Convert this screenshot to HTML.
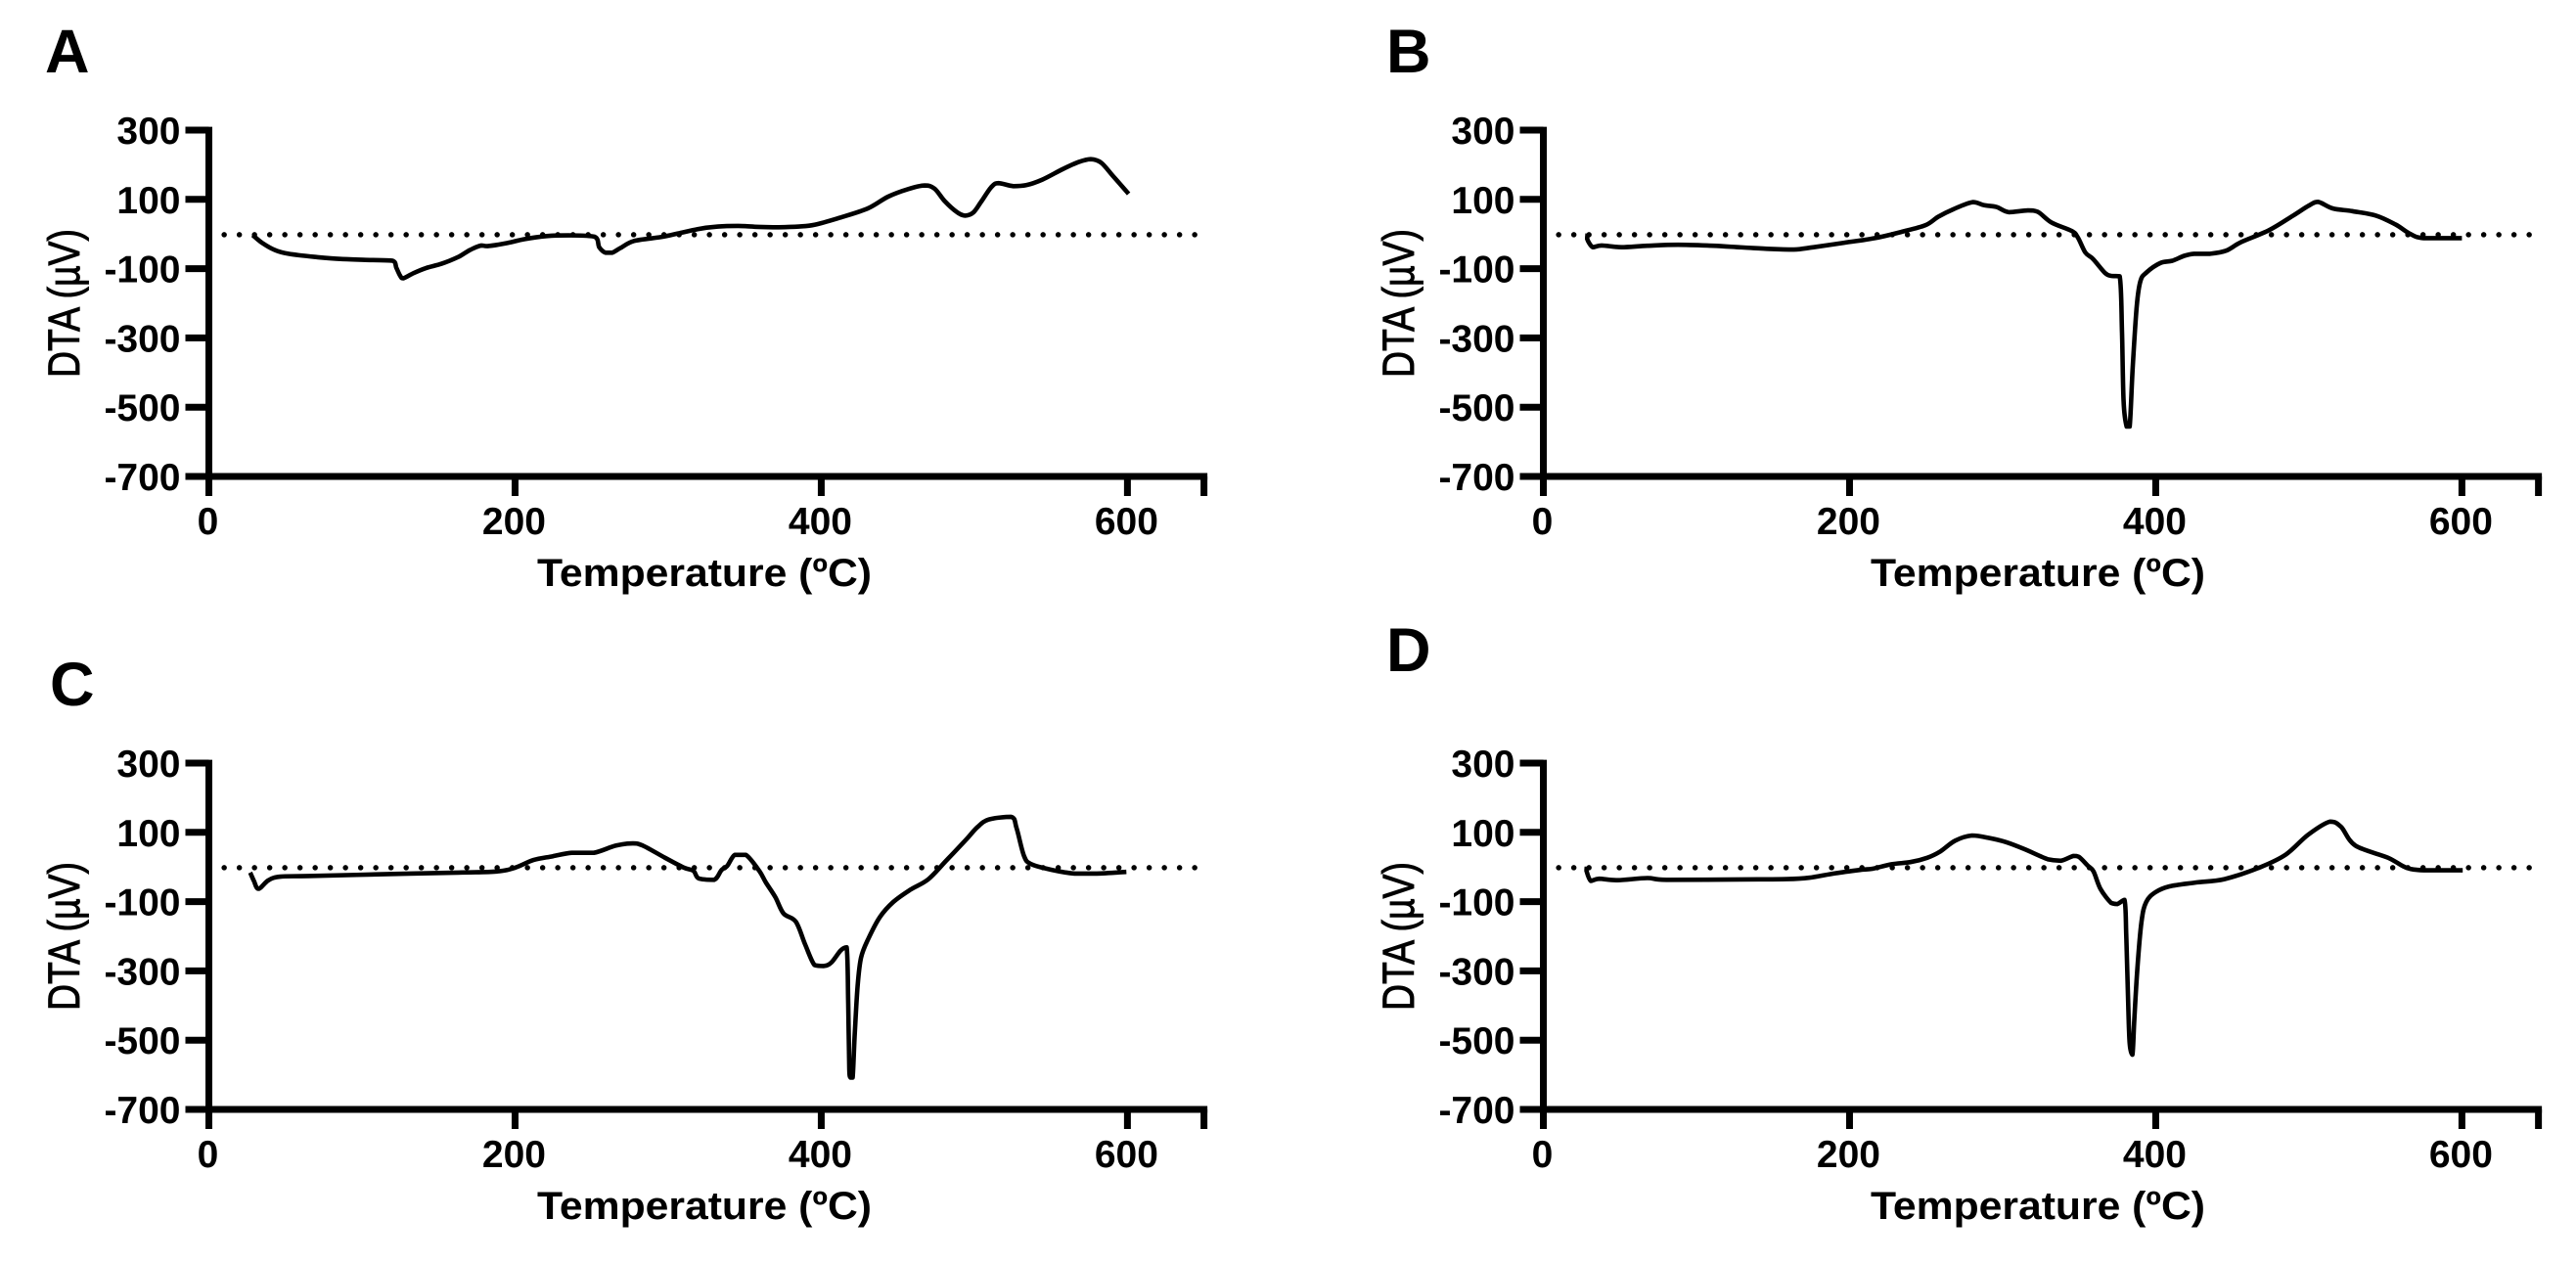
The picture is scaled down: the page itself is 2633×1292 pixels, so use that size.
<!DOCTYPE html>
<html lang="en">
<head>
<meta charset="utf-8">
<title>DTA curves, panels A to D</title>
<style>
html,body{margin:0;padding:0;background:#fff;}
svg{display:block;}
text{font-family:"Liberation Sans",Arial,sans-serif;fill:#000;}
.letter{font-size:63px;font-weight:bold;}
.tick{font-size:39px;font-weight:bold;}
.xtitle{font-size:40px;font-weight:bold;}
.ytitle{font-size:45px;font-weight:normal;stroke:#000;stroke-width:0.9px;}
</style>
</head>
<body>
<svg id="figure" xmlns="http://www.w3.org/2000/svg" width="2633" height="1292" viewBox="0 0 2633 1292">
<rect width="2633" height="1292" fill="#fff"/>
<g id="panel-a">
<text class="letter" x="46" y="74">A</text>
<text class="xtitle" x="549" y="599" textLength="342" lengthAdjust="spacingAndGlyphs">Temperature (ºC)</text>
<text class="ytitle" transform="translate(81 386) rotate(-90)" textLength="152" lengthAdjust="spacingAndGlyphs">DTA (µV)</text>
</g>
<g id="panel-b">
<text class="letter" x="1417" y="74">B</text>
<text class="xtitle" x="1912" y="599" textLength="342" lengthAdjust="spacingAndGlyphs">Temperature (ºC)</text>
<text class="ytitle" transform="translate(1445 386) rotate(-90)" textLength="152" lengthAdjust="spacingAndGlyphs">DTA (µV)</text>
</g>
<g id="panel-c">
<text class="letter" x="51" y="721">C</text>
<text class="xtitle" x="549" y="1246" textLength="342" lengthAdjust="spacingAndGlyphs">Temperature (ºC)</text>
<text class="ytitle" transform="translate(81 1033) rotate(-90)" textLength="152" lengthAdjust="spacingAndGlyphs">DTA (µV)</text>
</g>
<g id="panel-d">
<text class="letter" x="1417" y="686">D</text>
<text class="xtitle" x="1912" y="1246" textLength="342" lengthAdjust="spacingAndGlyphs">Temperature (ºC)</text>
<text class="ytitle" transform="translate(1445 1033) rotate(-90)" textLength="152" lengthAdjust="spacingAndGlyphs">DTA (µV)</text>
</g>
</svg>
<script>
const xTickValues = [0, 200, 400, 600];
const xAxisMax = 650;
const yTickValues = [300, 100, -100, -300, -500, -700];
const referenceLevel = -2;
const referenceRange = [10, 644];

const tempA = [28.6,34.9,43.4,52,69,86,106,120,122.5,125,127,133.7,142,152,163,170.6,178,182,195,206,220.6,235,252,255,259,263.4,269,277.7,295,306,319.2,332.5,345.7,359,372,385.4,396,412,430.5,443.7,457,467.5,474,480.8,488.7,494,499.3,504.6,511,515.7,525.5,533.8,544.4,557.6,568.2,576,582.8,590.7,600.8];
const dtaA = [-3,-26,-47,-57,-66,-72,-75,-77,-98,-121,-128,-113,-98,-86,-66,-46,-33,-35,-26,-15,-6,-4,-8,-38,-54,-54,-40,-20,-9,1,14,21.5,23.5,20.5,19.5,21.5,27,47,74,108,130,140,131,94,63,53,62,94,135,147,138,141,157,187,208,216,206,167,116];

const tempB = [28.9,28.6,32.3,38,51,68,88,111,131,148,163.7,176.6,196.6,216.6,233.7,249.4,258,268,280.4,288,296,304,316.5,323,332,345,349,354,359,367,371,376.5,378,379,381,383,385,387.6,390,394,403,410.9,418.6,425,435.6,446,456,474,489.7,500,506,515.5,528.4,543.9,556.8,565.9,575,600];
const dtaB = [1,-14,-38,-33,-38,-34,-31,-34,-39,-43,-45,-38,-25,-12,6,25,50,72,92,83,78,63,68,64,33,9,-9,-53,-72,-113,-121,-122,-287,-483,-556,-556,-385,-209,-136,-111,-84,-77,-63,-57,-57,-48,-23,11,53,82,93,74,66,53,27,1,-12,-12];

const tempC = [27,29.4,32.4,39,46.6,65,114,163,187.7,200,212,224.7,237,251.5,266,277,283.4,298,310.3,316.5,320,330,334.9,338.6,343.5,350.8,359.5,363.8,370,375.3,383.4,389.5,395.6,401.7,406.6,412.7,416.6,417.6,418.3,419,420.5,421.8,423.7,426,431,438.4,447,458,470,482.4,494.6,502,509.3,524,527.6,532.5,537.4,550.9,565.5,580,599.3];
const dtaC = [-16,-40,-63,-38,-28,-26,-21,-16,-13,-2,20,31,41,41,62,68,62,26.5,-2,-11,-33,-37,-8.5,3,35,35,-11,-44.5,-87,-134,-158,-224,-283,-286,-276,-241,-232,-395,-584,-608,-608,-490,-347,-262,-205,-144,-101,-66,-35,22,79,115,137,145,112,31,8,-8.5,-19,-19,-14];

const tempD = [28.4,28.2,31,36.4,48.6,68,80.4,129.4,159,173.5,190.7,207.8,215,227.5,239.7,250.7,259.3,269,280,291,302,314,329.7,338,346.3,349.9,355.8,359.4,364,371,374.8,379.6,380.8,382,383,384.8,386,387.9,390.7,393.8,399.8,409,425.9,444.9,468.6,485,499.5,513.8,521,530.4,551.8,563.7,575.5,600.5];
const dtaD = [1,-11,-40,-34,-38,-32,-37,-36,-35,-31,-18,-8,-5,8,14,26.5,45,76,91,84,72,52,22,18,32,29,3,-13,-64,-104,-107,-95,-206,-395,-509,-542,-443,-300,-158,-101,-73,-56,-45,-35,0,36,93,131,116,62,26.5,-2,-9.5,-9.5];

const NS = 'http://www.w3.org/2000/svg';

function makeAxes(x0, yTop) {
  return {
    x: function (t) { return x0 + t * 1.5648; },
    y: function (v) { return yTop + (300 - v) * 0.354; }
  };
}

function addLine(parent, x1, y1, x2, y2, width) {
  const el = document.createElementNS(NS, 'line');
  el.setAttribute('x1', x1);
  el.setAttribute('y1', y1);
  el.setAttribute('x2', x2);
  el.setAttribute('y2', y2);
  el.setAttribute('stroke', '#000');
  el.setAttribute('stroke-width', width);
  parent.appendChild(el);
  return el;
}

function addLabel(parent, x, y, anchor, str) {
  const el = document.createElementNS(NS, 'text');
  el.setAttribute('class', 'tick');
  el.setAttribute('x', x);
  el.setAttribute('y', y);
  el.setAttribute('text-anchor', anchor);
  el.textContent = str;
  parent.appendChild(el);
  return el;
}

function clamp(v, a, b) {
  return Math.max(Math.min(a, b), Math.min(Math.max(a, b), v));
}

function smoothPath(pts) {
  let d = 'M' + pts[0][0].toFixed(1) + ' ' + pts[0][1].toFixed(1);
  for (let i = 0; i < pts.length - 1; i++) {
    const p0 = pts[Math.max(i - 1, 0)];
    const p1 = pts[i];
    const p2 = pts[i + 1];
    const p3 = pts[Math.min(i + 2, pts.length - 1)];
    const c1x = clamp(p1[0] + (p2[0] - p0[0]) / 6, p1[0], p2[0]);
    const c1y = clamp(p1[1] + (p2[1] - p0[1]) / 6, p1[1], p2[1]);
    const c2x = clamp(p2[0] - (p3[0] - p1[0]) / 6, p1[0], p2[0]);
    const c2y = clamp(p2[1] - (p3[1] - p1[1]) / 6, p1[1], p2[1]);
    d += ' C' + c1x.toFixed(1) + ' ' + c1y.toFixed(1) + ' ' + c2x.toFixed(1) + ' ' + c2y.toFixed(1) + ' ' + p2[0].toFixed(1) + ' ' + p2[1].toFixed(1);
  }
  return d;
}

function drawPanel(id, x0, yTop, temps, values) {
  const panel = document.getElementById(id);
  const ax = makeAxes(x0, yTop);
  const yBase = ax.y(yTickValues[yTickValues.length - 1]);

  const ySpine = addLine(panel, x0, ax.y(yTickValues[0]) - 3.4, x0, yBase + 20, 7);
  
  

  const xSpine = addLine(panel, x0 - 24, yBase, ax.x(xAxisMax) + 3.5, yBase, 7);
  
  

  yTickValues.forEach(function (v) {
    const tick = addLine(panel, x0 - 24, ax.y(v), x0, ax.y(v), 7);
    
    
    const label = addLabel(panel, x0 - 29, ax.y(v) + 14, 'end', String(v));
    
    
  });

  xTickValues.forEach(function (t) {
    const tick = addLine(panel, ax.x(t), yBase, ax.x(t), yBase + 20, 7);
    
    
    const label = addLabel(panel, ax.x(t) - 1, yBase + 59, 'middle', String(t));
    
    
  });

  const endTick = addLine(panel, ax.x(xAxisMax), yBase, ax.x(xAxisMax), yBase + 20, 7);
  
  

  const ref = addLine(panel, ax.x(referenceRange[0]), ax.y(referenceLevel), ax.x(referenceRange[1]) + 1, ax.y(referenceLevel), 5.5);
  ref.setAttribute('stroke-linecap', 'round');
  ref.setAttribute('stroke-dasharray', '0 15.5');
  
  

  const points = temps.map(function (t, i) {
    return [ax.x(t), ax.y(values[i])];
  });
  const curve = document.createElementNS(NS, 'path');
  curve.setAttribute('d', smoothPath(points));
  curve.setAttribute('fill', 'none');
  curve.setAttribute('stroke', '#000');
  curve.setAttribute('stroke-width', '4.6');
  curve.setAttribute('stroke-linejoin', 'round');
  
  
  panel.appendChild(curve);
}

drawPanel('panel-a', 213.5, 133, tempA, dtaA);
drawPanel('panel-b', 1577.5, 133, tempB, dtaB);
drawPanel('panel-c', 213.5, 780, tempC, dtaC);
drawPanel('panel-d', 1577.5, 780, tempD, dtaD);
</script>
</body>
</html>
